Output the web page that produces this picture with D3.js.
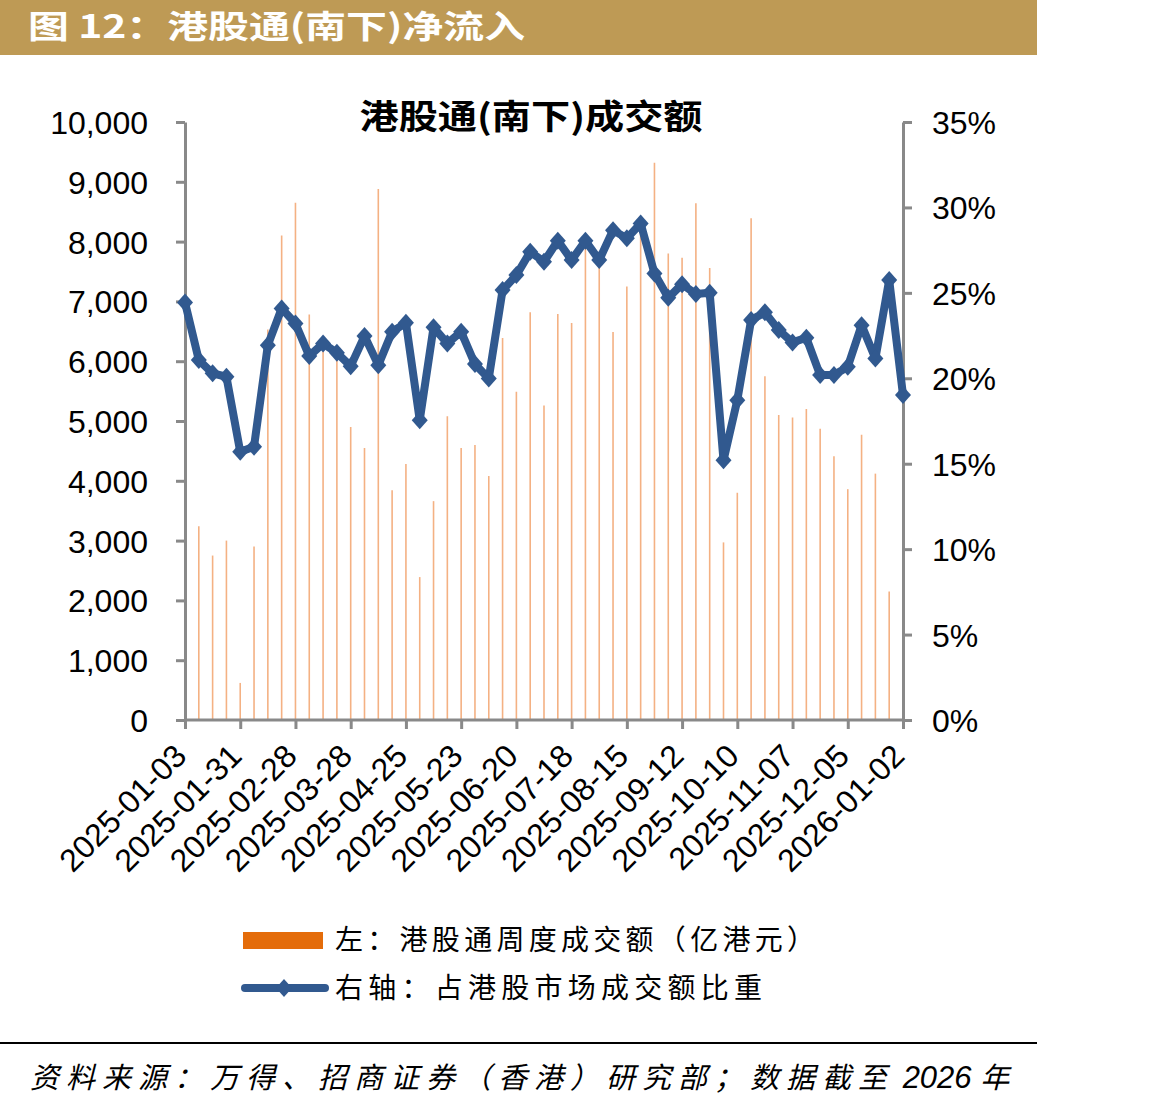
<!DOCTYPE html>
<html>
<head>
<meta charset="utf-8">
<script src="https://cdn.jsdelivr.net/npm/d3@7"></script>
<style>
  body { margin: 0; background: #fff; }
  .axis path, .axis line { stroke: #898989; stroke-width: 3; }
  .axis text { font-family: "Liberation Sans", Arial, sans-serif; font-size: 32px; fill: #000; }
  .cjk { font-family: "Noto Sans CJK SC", sans-serif; }
</style>
</head>
<body>
<div id="chart"></div>
<script>
// weekly dates
const dates = ["2025-01-03","2025-01-10","2025-01-17","2025-01-24","2025-01-31","2025-02-07","2025-02-14","2025-02-21","2025-02-28",
  "2025-03-07","2025-03-14","2025-03-21","2025-03-28","2025-04-04","2025-04-11","2025-04-18","2025-04-25",
  "2025-05-02","2025-05-09","2025-05-16","2025-05-23","2025-05-30","2025-06-06","2025-06-13","2025-06-20","2025-06-27",
  "2025-07-04","2025-07-11","2025-07-18","2025-07-25","2025-08-01","2025-08-08","2025-08-15","2025-08-22","2025-08-29",
  "2025-09-05","2025-09-12","2025-09-19","2025-09-26","2025-10-03","2025-10-10","2025-10-17","2025-10-24","2025-10-31",
  "2025-11-07","2025-11-14","2025-11-21","2025-11-28","2025-12-05","2025-12-12","2025-12-19","2025-12-26","2026-01-02"];

// 港股通周度成交额（亿港元）
const volume = [3100,3240,2750,3000,620,2900,6530,8100,8650,
  6780,6300,6050,4900,4550,8880,3840,4280,
  2390,3660,5080,4550,4600,4080,6390,5490,6820,
  5260,6790,6640,7900,7600,6490,7250,8150,9320,
  7800,7730,8640,7560,2970,3800,8390,5750,5100,
  5060,5200,4870,4410,3860,4770,4120,2150,2000];

// 占港股市场成交额比重 (%)
const share = [24.44,21.07,20.29,20.09,15.7,16.0,21.94,24.09,23.21,
  21.30,22.04,21.49,20.71,22.47,20.77,22.72,23.25,
  17.55,22.98,22.04,22.72,20.83,19.99,25.16,26.04,27.40,
  26.82,28.05,26.92,28.05,26.92,28.67,28.19,29.06,26.14,
  24.71,25.51,24.93,25.00,15.2,18.72,23.41,23.86,22.82,
  22.10,22.37,20.19,20.19,20.67,23.11,21.16,25.75,19.02];

const tickDates = ["2025-01-03","2025-01-31","2025-02-28","2025-03-28","2025-04-25","2025-05-23","2025-06-20",
  "2025-07-18","2025-08-15","2025-09-12","2025-10-10","2025-11-07","2025-12-05","2026-01-02"];
const leftTicks = [0,1000,2000,3000,4000,5000,6000,7000,8000,9000,10000];
const rightTicks = [0,5,10,15,20,25,30,35];

const width = 1168, height = 1110,
  margin = { top: 122, bottom: 390, left: 185, right: 265 },
  barColor = "#F4B183",
  lineColor = "#31598F";

const data = dates.map((d, i) => ({ date: d, vol: volume[i], pct: share[i] }));

const xScale = d3.scalePoint()
  .domain(dates)
  .range([margin.left, width - margin.right]);
const yLeft = d3.scaleLinear()
  .domain([0, 10000])
  .range([height - margin.bottom, margin.top]);
const yRight = d3.scaleLinear()
  .domain([0, 35])
  .range([height - margin.bottom, margin.top]);

const svg = d3.select("#chart")
  .append("svg")
  .attr("width", width)
  .attr("height", height);

// header banner
svg.append("rect")
  .attr("x", 0).attr("y", 0)
  .attr("width", 1037).attr("height", 55)
  .attr("fill", "#BE9A55");
svg.append("text")
  .attr("class", "cjk")
  .attr("x", 28).attr("y", 38)
  .attr("font-size", 32).attr("font-weight", 700)
  .attr("fill", "#fff")
  .attr("textLength", 497).attr("lengthAdjust", "spacingAndGlyphs")
  .text("图 12：港股通(南下)净流入");

// chart title
svg.append("text")
  .attr("class", "cjk")
  .attr("x", 531).attr("y", 129)
  .attr("text-anchor", "middle")
  .attr("font-size", 34).attr("font-weight", 700)
  .attr("textLength", 343).attr("lengthAdjust", "spacingAndGlyphs")
  .text("港股通(南下)成交额");

// bars (thin)
svg.append("g")
  .selectAll("line")
  .data(data)
  .join("line")
  .attr("x1", d => xScale(d.date))
  .attr("x2", d => xScale(d.date))
  .attr("y1", yLeft(0))
  .attr("y2", d => yLeft(d.vol))
  .attr("stroke", barColor)
  .attr("stroke-width", 1.6);

// axes
svg.append("g")
  .attr("class", "axis")
  .attr("transform", `translate(${margin.left},0)`)
  .call(d3.axisLeft(yLeft).tickValues(leftTicks).tickSize(9).tickSizeOuter(0).tickPadding(28)
    .tickFormat(d3.format(",")))
  .selectAll("text").attr("dy", "0.36em");

svg.append("g")
  .attr("class", "axis")
  .attr("transform", `translate(${width - margin.right},0)`)
  .call(d3.axisRight(yRight).tickValues(rightTicks).tickSize(9).tickSizeOuter(0).tickPadding(20)
    .tickFormat(d => d + "%"))
  .selectAll("text").attr("dy", "0.36em");

const xAxis = svg.append("g")
  .attr("class", "axis")
  .attr("transform", `translate(0,${yLeft(0)})`)
  .call(d3.axisBottom(xScale).tickValues(tickDates).tickSize(9).tickSizeOuter(0));
xAxis.select(".domain").attr("d", `M${margin.left},0H${width - margin.right}`);
xAxis.selectAll("text")
  .attr("font-size", 31)
  .attr("text-anchor", "end")
  .attr("dy", "0.35em")
  .attr("transform", "translate(-5,30) rotate(-45)")
  .attr("y", 0).attr("x", 0);

// share line
svg.append("path")
  .datum(data)
  .attr("fill", "none")
  .attr("stroke", lineColor)
  .attr("stroke-width", 8)
  .attr("stroke-linejoin", "round")
  .attr("d", d3.line().x(d => xScale(d.date)).y(d => yRight(d.pct)));

const diamond = "M0,-9L8,0L0,9L-8,0Z";
svg.append("g")
  .selectAll("path")
  .data(data)
  .join("path")
  .attr("d", diamond)
  .attr("transform", d => `translate(${xScale(d.date)},${yRight(d.pct)})`)
  .attr("fill", lineColor);

// legend
const legend = svg.append("g").attr("class", "cjk");
legend.append("rect")
  .attr("x", 243).attr("y", 932)
  .attr("width", 80).attr("height", 17)
  .attr("fill", "#E46C0A");
legend.append("text")
  .attr("x", 335).attr("y", 950)
  .attr("font-size", 28)
  .attr("textLength", 480).attr("lengthAdjust", "spacing")
  .text("左：港股通周度成交额（亿港元）");
legend.append("line")
  .attr("x1", 245).attr("x2", 325)
  .attr("y1", 988).attr("y2", 988)
  .attr("stroke", lineColor).attr("stroke-width", 8)
  .attr("stroke-linecap", "round");
legend.append("path")
  .attr("d", diamond)
  .attr("transform", "translate(284,988)")
  .attr("fill", lineColor);
legend.append("text")
  .attr("x", 335).attr("y", 998)
  .attr("font-size", 28)
  .attr("textLength", 427).attr("lengthAdjust", "spacing")
  .text("右轴：占港股市场成交额比重");

// footer
svg.append("line")
  .attr("x1", 0).attr("x2", 1037)
  .attr("y1", 1043).attr("y2", 1043)
  .attr("stroke", "#000").attr("stroke-width", 2);
const foot = svg.append("text")
  .attr("class", "cjk")
  .attr("x", 30).attr("y", 1088)
  .attr("font-size", 29).attr("font-style", "italic");
foot.append("tspan")
  .attr("letter-spacing", "7px")
  .text("资料来源：万得、招商证券（香港）研究部；数据截至");
foot.append("tspan")
  .attr("font-family", "'Liberation Sans', Arial, sans-serif")
  .attr("font-size", 31)
  .text(" 2026 ");
foot.append("tspan")
  .text("年");
</script>
</body>
</html>
